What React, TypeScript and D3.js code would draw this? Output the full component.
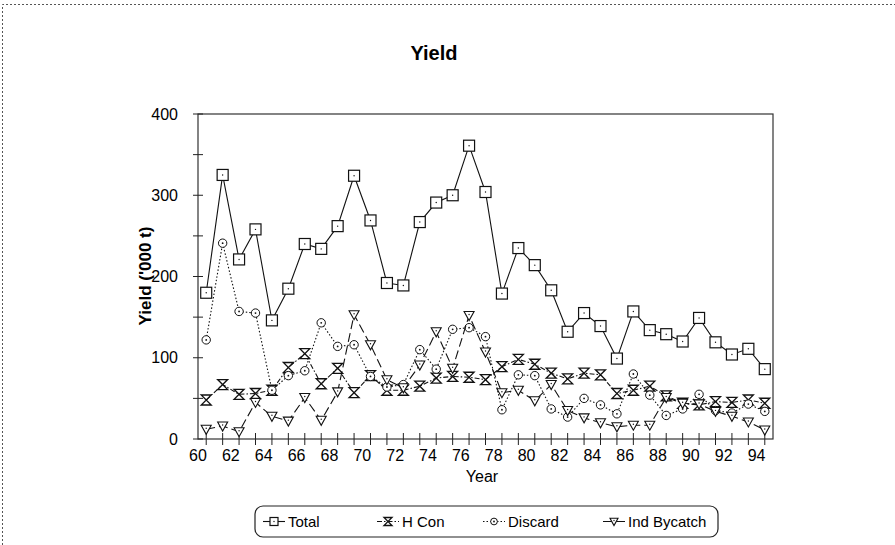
import React, { useRef, useEffect } from 'react';
import * as d3 from 'd3';

const years = d3.range(60, 95);
const total = [180, 325, 221, 258, 146, 185, 240, 234, 262, 324, 269, 192, 189, 267, 291, 300, 361, 304, 179, 235, 214, 183, 132, 155, 139, 99, 157, 134, 129, 120, 149, 119, 104, 111, 86];
const hCon = [48, 67, 55, 56, 60, 88, 105, 68, 87, 57, 78, 60, 60, 65, 75, 77, 76, 73, 89, 98, 92, 81, 74, 81, 79, 56, 60, 65, 53, 44, 42, 46, 45, 48, 44];
const discard = [122, 241, 157, 155, 60, 78, 84, 143, 114, 116, 77, 64, 67, 110, 86, 135, 137, 126, 36, 79, 78, 37, 27, 50, 42, 31, 80, 54, 29, 37, 55, 35, 32, 43, 34];
const indBycatch = [12, 16, 9, 45, 28, 22, 51, 23, 58, 153, 116, 73, 63, 91, 132, 87, 152, 107, 57, 60, 47, 67, 35, 26, 20, 15, 17, 17, 51, 44, 43, 34, 28, 21, 11];
const xLabels = d3.range(60, 95, 2);
const yLabels = [0, 100, 200, 300, 400];

const series = [
  { name: 'Total', values: total, dash: null, marker: 'square' },
  { name: 'H Con', values: hCon, dash: '5,2,1.5,2', marker: 'hourglass' },
  { name: 'Discard', values: discard, dash: '1.5,2', marker: 'circle' },
  { name: 'Ind Bycatch', values: indBycatch, dash: '9,4', marker: 'triangle' },
];

const W = 895;
const H = 545;
const font = 'Liberation Sans, Arial, sans-serif';

function drawMarker(g: any, kind: string, x: number, y: number, s: number) {
  const ink = '#111';
  if (kind === 'square') {
    g.append('rect').attr('x', x - s / 2).attr('y', y - s / 2).attr('width', s).attr('height', s)
      .attr('fill', '#fff').attr('stroke', ink).attr('stroke-width', 1.2);
    g.append('circle').attr('cx', x).attr('cy', y).attr('r', 0.7).attr('fill', ink);
  } else if (kind === 'hourglass') {
    const h = s / 2;
    g.append('path').attr('d', `M${x - h},${y - h}L${x + h},${y - h}L${x - h},${y + h}L${x + h},${y + h}Z`)
      .attr('fill', '#fff').attr('stroke', ink).attr('stroke-width', 1.3);
  } else if (kind === 'circle') {
    g.append('circle').attr('cx', x).attr('cy', y).attr('r', s * 0.42)
      .attr('fill', '#fff').attr('stroke', ink).attr('stroke-width', 1);
    g.append('circle').attr('cx', x).attr('cy', y).attr('r', 0.9).attr('fill', ink);
  } else {
    const h = s / 2;
    g.append('path').attr('d', `M${x - h},${y - h * 0.8}L${x + h},${y - h * 0.8}L${x},${y + h}Z`)
      .attr('fill', '#fff').attr('stroke', ink).attr('stroke-width', 1.1);
    g.append('circle').attr('cx', x).attr('cy', y - 1).attr('r', 0.7).attr('fill', ink);
  }
}

export default function App() {
  const ref = useRef<SVGSVGElement>(null);

  useEffect(() => {
    const svg = d3.select(ref.current);
    svg.selectAll('*').remove();

    const x = d3.scaleLinear().domain([60, 95]).range([198, 773]);
    const y = d3.scaleLinear().domain([0, 400]).range([439, 114]);

    // outer dotted border
    svg.append('path').attr('d', `M2.5,${H}V4.5H${W}`).attr('fill', 'none')
      .attr('stroke', '#555').attr('stroke-width', 1).attr('stroke-dasharray', '2,2');

    svg.append('text').attr('x', 434).attr('y', 60).attr('text-anchor', 'middle')
      .attr('font-family', font).attr('font-weight', 'bold').attr('font-size', 20).text('Yield');

    // plot frame
    svg.append('rect').attr('x', x(60)).attr('y', y(400)).attr('width', x(95) - x(60)).attr('height', y(0) - y(400))
      .attr('fill', 'none').attr('stroke', '#333').attr('stroke-width', 1.2);

    // y ticks (crossing)
    const yt = svg.append('g');
    yt.selectAll('line').data(d3.range(0, 401, 50)).join('line')
      .attr('x1', x(60) - 5).attr('x2', x(60) + 5)
      .attr('y1', d => y(d)).attr('y2', d => y(d))
      .attr('stroke', '#222').attr('stroke-width', 1);
    yt.selectAll('text').data(yLabels).join('text')
      .attr('x', 178).attr('y', d => y(d)).attr('dy', '0.35em').attr('text-anchor', 'end')
      .attr('font-family', font).attr('font-size', 16).text(d => d);

    // x ticks (crossing, at category centres)
    const xt = svg.append('g');
    xt.selectAll('line').data(years).join('line')
      .attr('x1', d => x(d + 0.5)).attr('x2', d => x(d + 0.5))
      .attr('y1', y(0) - 6).attr('y2', y(0) + 6)
      .attr('stroke', '#222').attr('stroke-width', 1);
    xt.selectAll('text').data(xLabels).join('text')
      .attr('x', d => x(d)).attr('y', 461).attr('text-anchor', 'middle')
      .attr('font-family', font).attr('font-size', 16).text(d => d);

    svg.append('text').attr('x', 482).attr('y', 482).attr('text-anchor', 'middle')
      .attr('font-family', font).attr('font-size', 16).text('Year');
    svg.append('text').attr('transform', 'translate(151,276) rotate(-90)').attr('text-anchor', 'middle')
      .attr('font-family', font).attr('font-weight', 'bold').attr('font-size', 17).text("Yield ('000 t)");

    const line = d3.line<number>().x((_, i) => x(years[i] + 0.5)).y(d => y(d));
    series.forEach(s => {
      const g = svg.append('g');
      g.append('path').attr('d', line(s.values)).attr('fill', 'none')
        .attr('stroke', '#111').attr('stroke-width', 1.1)
        .attr('stroke-dasharray', s.dash);
      s.values.forEach((v, i) => drawMarker(g, s.marker, x(years[i] + 0.5), y(v), s.marker === 'square' ? 11 : 10));
    });

    // legend
    const lg = svg.append('g');
    lg.append('rect').attr('x', 255).attr('y', 506).attr('width', 463).attr('height', 31).attr('rx', 8)
      .attr('fill', '#fff').attr('stroke', '#222').attr('stroke-width', 1.2);
    const lx = [263, 377, 483, 603];
    series.forEach((s, i) => {
      const x0 = lx[i];
      lg.append('line').attr('x1', x0).attr('x2', x0 + 22).attr('y1', 521.5).attr('y2', 521.5)
        .attr('stroke', '#111').attr('stroke-width', 1.1).attr('stroke-dasharray', s.dash);
      drawMarker(lg, s.marker, x0 + 11, 521.5, 8);
      lg.append('text').attr('x', x0 + 25).attr('y', 527).attr('font-family', font).attr('font-size', 15)
        .text(s.name);
    });
  }, []);

  return <svg ref={ref} width={W} height={H} style={{ position: 'absolute', left: 0, top: 0, background: '#fff' }} />;
}
